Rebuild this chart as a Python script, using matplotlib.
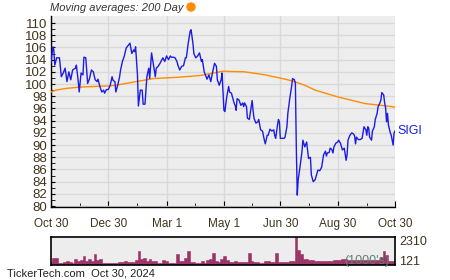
import numpy as np
import pandas as pd
import matplotlib
matplotlib.use("Agg")
import matplotlib.pyplot as plt

plt.rcParams['font.family'] = ['Liberation Sans', 'DejaVu Sans']

# --- data ---
start = pd.Timestamp("2023-10-30")
end = pd.Timestamp("2024-10-30")

# days since start, closing price
price_days = [0, 2, 3, 4, 6, 9, 11, 13, 15, 17, 19, 21, 23, 26, 27, 29, 30, 32, 34, 35,
              37, 39, 41, 43, 45, 47, 49, 50, 52, 54, 56, 57, 59, 61, 63, 65, 66, 68, 69, 71,
              73, 74, 76, 78, 80, 82, 84, 86, 88, 89, 90, 92, 93, 95, 97, 98, 100, 102, 104, 105,
              107, 109, 111, 112, 114, 116, 118, 119, 121, 123, 125, 127, 128, 130, 132, 134, 135, 137, 139, 141,
              143, 144, 146, 148, 149, 151, 152, 154, 156, 158, 160, 161, 163, 165, 166, 168, 170, 172, 174, 176,
              177, 179, 181, 182, 184, 185, 187, 189, 190, 192, 193, 195, 196, 197, 198, 200, 202, 204, 205, 206,
              208, 209, 211, 212, 214, 215, 216, 218, 220, 221, 223, 225, 227, 228, 230, 231, 233, 235, 237, 238,
              239, 241, 242, 243, 244, 246, 248, 249, 251, 252, 254, 256, 257, 259, 260, 261, 262, 263, 265, 267,
              268, 270, 272, 274, 276, 277, 279, 281, 283, 284, 286, 288, 290, 292, 293, 294, 296, 297, 299, 300,
              301, 303, 305, 306, 308, 310, 312, 314, 315, 316, 318, 320, 322, 323, 324, 325, 327, 329, 331, 332,
              333, 335, 336, 337, 338, 339, 341, 342, 344, 345, 347, 348, 350, 351, 352, 354, 355, 356, 357, 358,
              359, 361, 362, 364, 365, 366]
prices = [103.5, 106.1, 105.6, 103.1, 104.3, 104.3, 101.2, 101.8, 102.6, 100.4, 102.0, 100.7, 102.3, 102.6, 103.1, 100.4, 98.7, 101.8, 101.5, 104.4,
          104.3, 100.1, 100.9, 102.3, 102.0, 100.7, 100.4, 100.8, 99.6, 98.7, 99.0, 98.5, 99.1, 99.1, 99.8, 101.2, 100.6, 100.4, 98.7, 99.8,
          101.2, 102.3, 103.7, 104.6, 105.9, 106.3, 106.7, 105.0, 105.6, 105.3, 106.1, 101.5, 96.4, 99.0, 99.0, 96.7, 96.7, 101.2, 102.6, 100.9,
          105.1, 103.1, 101.2, 102.6, 102.9, 103.4, 104.0, 104.3, 103.7, 104.6, 104.0, 104.6, 104.4, 104.4, 104.3, 103.7, 103.1, 102.3, 102.9, 103.0,
          104.3, 104.3, 106.7, 108.6, 108.9, 106.7, 105.0, 104.3, 104.6, 105.1, 103.7, 104.0, 102.0, 101.2, 100.8, 101.5, 100.4, 102.0, 103.4, 102.9,
          100.7, 99.8, 100.7, 101.8, 95.7, 95.5, 97.9, 99.6, 98.7, 98.5, 97.9, 96.8, 96.5, 95.7, 97.6, 97.4, 96.5, 96.9, 96.3, 96.9,
          96.3, 94.4, 94.2, 95.2, 97.3, 95.7, 94.4, 93.6, 93.8, 94.2, 92.5, 92.3, 90.8, 90.2, 91.6, 91.6, 92.6, 92.3, 92.5, 91.6,
          91.1, 93.3, 94.2, 93.8, 91.1, 91.1, 91.1, 91.3, 93.0, 95.2, 97.6, 99.6, 100.9, 100.7, 100.1, 89.7, 81.8, 84.3, 86.5, 88.9,
          90.8, 89.7, 90.5, 87.8, 88.0, 85.1, 84.0, 84.3, 85.4, 85.9, 85.8, 86.4, 88.4, 89.0, 88.2, 88.7, 88.8, 89.5, 89.2, 88.7,
          89.7, 90.3, 90.5, 90.8, 90.3, 89.2, 89.5, 87.5, 88.4, 90.8, 91.6, 92.0, 91.8, 91.5, 90.2, 91.3, 90.9, 90.9, 91.1, 92.0,
          93.0, 92.5, 91.6, 93.0, 92.8, 91.3, 90.8, 92.3, 93.0, 94.2, 95.2, 96.3, 96.9, 97.4, 98.6, 98.2, 96.9, 96.1, 93.8, 95.2,
          93.3, 92.0, 91.6, 90.0, 92.0, 92.3]

# 200 day moving average
ma_days = [0, 5, 17, 31, 63, 69, 87, 109, 134, 159, 183, 206, 228, 249, 257, 270, 281, 305, 334, 363, 366]
ma_values = [98.7, 99.0, 99.3, 99.5, 99.7, 99.8, 100.3, 100.9, 101.1, 101.4, 102.1, 102.0, 101.5, 100.8, 100.5,
             99.8, 99.0, 97.9, 96.8, 96.3, 96.2]

# volume in thousands (roughly every two trading days)
volume = [220, 570, 570, 190, 190, 245, 350, 220, 140, 490, 300, 410, 735, 300, 460, 300, 900, 410, 460, 140,
          140, 190, 190, 190, 190, 270, 220, 300, 220, 220, 220, 410, 1170, 460, 570, 350, 515, 350, 350, 190,
          190, 410, 300, 140, 190, 190, 900, 300, 300, 570, 1170, 245, 245, 190, 190, 300, 140, 410, 460, 950,
          350, 245, 460, 735, 410, 245, 245, 300, 245, 245, 245, 245, 950, 350, 245, 245, 190, 190, 300, 300,
          245, 245, 1030, 245, 245, 245, 245, 350, 350, 2310, 1225, 900, 515, 515, 410, 410, 350, 350, 350, 300,
          300, 300, 300, 410, 410, 410, 460, 460, 380, 380, 380, 380, 380, 380, 380, 380, 380, 380, 380, 380,
          625, 1170, 850, 350, 300, 300]
vol_max, vol_min = 2310, 121

x_ticks = ["2023-10-30", "2023-12-30", "2024-03-01", "2024-05-01", "2024-06-30", "2024-08-30", "2024-10-30"]
x_labels = ["Oct 30", "Dec 30", "Mar 1", "May 1", "Jun 30", "Aug 30", "Oct 30"]
x_minor = ["2023-11-30", "2024-01-30", "2024-03-31", "2024-05-31", "2024-07-31", "2024-09-30"]

price_dates = start + pd.to_timedelta(price_days, unit="D")
ma_dates = start + pd.to_timedelta(ma_days, unit="D")
vol_dates = pd.date_range(start, end, periods=len(volume))

txt = "#40341c"
bg = "#ededed"
grid = "#d9d9d9"

fig = plt.figure(figsize=(4.5, 2.8), dpi=100)
ax = fig.add_axes([51 / 450, 73 / 280, 344 / 450, 191 / 280])
ax.set_facecolor(bg)
ax.plot(ma_dates, ma_values, color="#ff8c00", lw=1.0, zorder=3)
ax.plot(price_dates, prices, color="#1c1ce6", lw=1.0, zorder=4)

ax.set_xlim(start, end)
ax.set_ylim(79.85, 111.15)
ax.set_yticks(np.arange(80, 111, 2))
ax.set_yticks(np.arange(80, 111, 1), minor=True)
ax.set_xticks(pd.to_datetime(x_ticks))
ax.set_xticklabels(x_labels)
ax.set_xticks(pd.to_datetime(x_minor), minor=True)
ax.grid(True, which="major", color=grid, lw=1.0, zorder=0)
ax.tick_params(axis="both", which="both", direction="in", colors="black", labelcolor=txt)
ax.tick_params(axis="y", which="major", length=3, labelsize=9.5, pad=3)
ax.tick_params(axis="y", which="minor", length=3)
ax.tick_params(axis="x", which="major", length=4, labelsize=8.5, pad=8)
ax.tick_params(axis="x", which="minor", length=3)
for s in ["top", "right"]:
    ax.spines[s].set_visible(False)
for s in ["left", "bottom"]:
    ax.spines[s].set_linewidth(1.0)

ax.text(1.008, prices[-1], "SIGI", transform=ax.get_yaxis_transform(),
        color="#1c1ce6", fontsize=9, va="center", ha="left")

# volume panel
axv = fig.add_axes([51 / 450, 15 / 280, 344 / 450, 28 / 280])
axv.set_facecolor(bg)
axv.bar(vol_dates, volume, width=2.95, color="#9b3366", edgecolor="#9b3366", linewidth=0.4,
        align="center", zorder=2)
axv.set_xlim(start, end)
axv.set_ylim(0, vol_max)
axv.set_xticks([])
axv.set_yticks([])
for s in axv.spines.values():
    s.set_linewidth(1.2)
    s.set_zorder(5)
axv.text(1.012, 0.82, str(vol_max), transform=axv.transAxes, color=txt, fontsize=9, va="center")
axv.text(1.012, 0.1, str(vol_min), transform=axv.transAxes, color=txt, fontsize=9, va="center")
axv.text(0.985, 0.14, "(1000's)", transform=axv.transAxes, color="#5f8070", fontsize=9,
         ha="right", va="center", zorder=6)

fig.text(50 / 450, 1 - 8 / 280, "Moving averages: 200 Day", style="italic", fontsize=8,
         color="#333333", va="center")
fig.patches.append(matplotlib.patches.Ellipse((191 / 450, 1 - 7 / 280), 8 / 450, 8 / 280,
                                              transform=fig.transFigure, color="#ff8c00"))
fig.text(7 / 450, 1 - 273 / 280, "TickerTech.com  Oct 30, 2024", fontsize=8, color="#222222", va="center")

fig.savefig("out.png", dpi=100)
